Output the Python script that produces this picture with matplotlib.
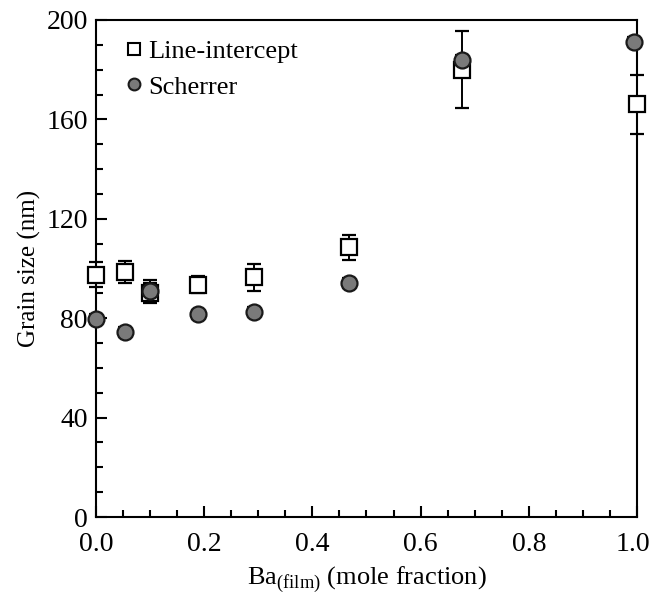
import matplotlib
matplotlib.use("Agg")
import matplotlib.pyplot as plt
import matplotlib.transforms as mtransforms
from matplotlib.lines import Line2D
from matplotlib.ticker import MultipleLocator

plt.rcParams['font.family'] = ['Liberation Serif', 'DejaVu Serif']
plt.rcParams['mathtext.fontset'] = 'custom'
plt.rcParams['mathtext.rm'] = 'Liberation Serif'

# Data
li_x = [0.0, 0.053, 0.099, 0.188, 0.293, 0.468, 0.677, 1.0]
li_y = [97.5, 98.5, 90.0, 93.5, 96.5, 108.5, 180.0, 166.0]
li_err = [5.0, 4.5, 4.0, 3.5, 5.5, 5.0, 15.5, 12.0]

sc_x = [0.0, 0.053, 0.099, 0.188, 0.293, 0.468, 0.677, 0.994]
sc_y = [79.5, 74.5, 91.0, 81.5, 82.5, 94.0, 184.0, 191.0]
sc_err = [2.0, 2.0, 4.5, 2.0, 2.0, 2.0, 2.0, 2.0]

x_ticks = [0.0, 0.2, 0.4, 0.6, 0.8, 1.0]
x_ticklabels = ["0.0", "0.2", "0.4", "0.6", "0.8", "1.0"]

fig = plt.figure(figsize=(6.52, 5.97), dpi=100)
ax = fig.add_axes([0.1472, 0.134, 0.8298, 0.8325])

ax.errorbar(li_x, li_y, yerr=li_err, fmt='s', ms=12, mfc='white', mec='black',
            mew=1.6, ecolor='black', elinewidth=1.4, capsize=5, capthick=1.8,
            zorder=3, clip_on=False)
ax.errorbar(sc_x, sc_y, yerr=sc_err, fmt='o', ms=11.5, mfc='#7a7a7a', mec='#1a1a1a',
            mew=1.6, ecolor='black', elinewidth=1.4, capsize=5, capthick=1.8,
            zorder=4, clip_on=False)

ax.set_xlim(0, 1.0)
ax.set_ylim(0, 200)
ax.set_xticks(x_ticks)
ax.set_xticklabels(x_ticklabels)
ax.xaxis.set_minor_locator(MultipleLocator(0.05))
ax.yaxis.set_major_locator(MultipleLocator(40))
ax.yaxis.set_minor_locator(MultipleLocator(10))
ax.tick_params(axis='both', which='both', direction='in', top=False, right=False,
               labelsize=20, width=1.5)
ax.tick_params(axis='both', which='major', length=8)
ax.tick_params(axis='both', which='minor', length=5)
ax.tick_params(axis='x', which='major', pad=11)
ax.tick_params(axis='y', which='major', pad=6)
for sp in ax.spines.values():
    sp.set_linewidth(1.5)

# nudge the last x tick label slightly left so it stays inside the figure
last = ax.get_xticklabels()[-1]
last.set_transform(last.get_transform() +
                   mtransforms.ScaledTranslation(-4 / 100, 0, fig.dpi_scale_trans))

ax.set_xlabel(r"Ba$_{\mathregular{(film)}}$ (mole fraction)", fontsize=19, labelpad=5)
ax.set_ylabel("Grain size (nm)", fontsize=18, labelpad=4)

handles = [
    Line2D([], [], marker='s', ls='none', ms=8.5, mfc='white', mec='black', mew=1.5),
    Line2D([], [], marker='o', ls='none', ms=8.5, mfc='#7a7a7a', mec='#1a1a1a', mew=1.5),
]
ax.legend(handles, ["Line-intercept", "Scherrer"], loc='upper left',
          bbox_to_anchor=(0.012, 1.008), frameon=False, fontsize=19,
          handletextpad=0.25, labelspacing=0.45, handlelength=0.6)

fig.savefig("out.png", dpi=100)
